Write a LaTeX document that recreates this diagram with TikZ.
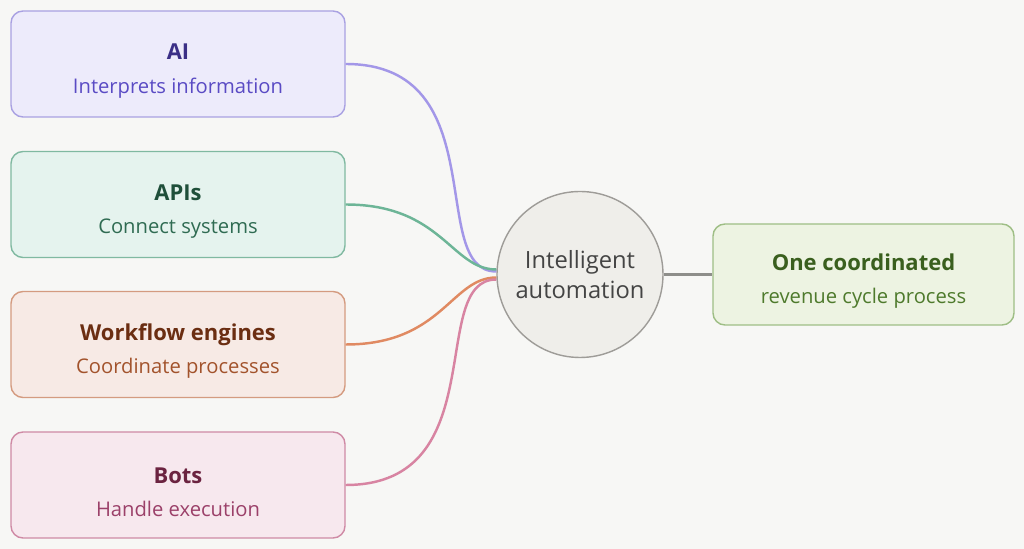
\documentclass[tikz,border=0pt]{standalone}
\usepackage{fontspec}
\setmainfont{Open Sans}
\usetikzlibrary{positioning}

\definecolor{bgcol}{HTML}{F7F7F5}
\definecolor{aifill}{HTML}{EDEBFB}
\definecolor{aidraw}{HTML}{A9A1E2}
\definecolor{aititle}{HTML}{3B2F86}
\definecolor{aisub}{HTML}{5A4BC4}
\definecolor{ailine}{HTML}{A397E8}
\definecolor{apifill}{HTML}{E5F3EE}
\definecolor{apidraw}{HTML}{80B9A1}
\definecolor{apititle}{HTML}{1F4F3A}
\definecolor{apisub}{HTML}{2F6B52}
\definecolor{apiline}{HTML}{6DB597}
\definecolor{wffill}{HTML}{F7EAE5}
\definecolor{wfdraw}{HTML}{D49B80}
\definecolor{wftitle}{HTML}{6B2E12}
\definecolor{wfsub}{HTML}{A2532C}
\definecolor{wfline}{HTML}{E08A62}
\definecolor{botfill}{HTML}{F7E8EE}
\definecolor{botdraw}{HTML}{CF8AA5}
\definecolor{bottitle}{HTML}{6B2340}
\definecolor{botsub}{HTML}{9B4069}
\definecolor{botline}{HTML}{D884A2}
\definecolor{hubfill}{HTML}{EFEEEA}
\definecolor{hubdraw}{HTML}{9E9C98}
\definecolor{hubtext}{HTML}{444444}
\definecolor{outfill}{HTML}{EDF3E2}
\definecolor{outdraw}{HTML}{9EBE85}
\definecolor{outtitle}{HTML}{3A5F1E}
\definecolor{outsub}{HTML}{4E7A2C}
\definecolor{outline}{HTML}{8E8E8A}

% title line + subtitle line of a box
\newcommand{\boxlines}[4]{%
  {\rule{0pt}{17pt}\fontsize{12.5}{19}\selectfont\bfseries\color{#3}#1}\\
  \color{#4}#2}

\tikzset{
  srcbox/.style={draw, rounded corners=0.24cm, line width=0.8pt,
    minimum width=6.68cm, minimum height=2.12cm, align=center,
    font=\fontsize{11.5}{19}\selectfont},
  hub/.style={circle, draw=hubdraw, fill=hubfill, line width=0.8pt,
    minimum size=3.32cm, inner sep=0pt, align=center, text=hubtext,
    font=\fontsize{13.5}{17}\selectfont},
  outbox/.style={draw=outdraw, fill=outfill, rounded corners=0.24cm, line width=0.8pt,
    minimum width=6.02cm, minimum height=2.02cm, align=center,
    font=\fontsize{11.5}{19}\selectfont},
  link/.style={line width=1.4pt, out=0, in=180,
    out looseness=1.5, in looseness=0.7}
}

\begin{document}
\begin{tikzpicture}
  \fill[bgcol] (0,0) rectangle (20.48,-10.98);
  \useasboundingbox (0,0) rectangle (20.48,-10.98);

  % sources
  \node[srcbox, draw=aidraw, fill=aifill] (ai) at (3.56,-1.28)
    {\boxlines{AI}{Interprets information}{aititle}{aisub}};
  \node[srcbox, draw=apidraw, fill=apifill] (api) at (3.56,-4.09)
    {\boxlines{APIs}{Connect systems}{apititle}{apisub}};
  \node[srcbox, draw=wfdraw, fill=wffill] (wf) at (3.56,-6.89)
    {\boxlines{Workflow engines}{Coordinate processes}{wftitle}{wfsub}};
  \node[srcbox, draw=botdraw, fill=botfill] (bot) at (3.56,-9.70)
    {\boxlines{Bots}{Handle execution}{bottitle}{botsub}};

  % hub and result
  \node[hub] (hub) at (11.60,-5.49) {Intelligent\\automation};
  \node[outbox] (out) at (17.27,-5.49)
    {\boxlines{One coordinated}{revenue cycle process}{outtitle}{outsub}};

  \draw[link, ailine] (ai.east) to ([yshift=0.06cm]hub.west);
  \draw[link, apiline] (api.east) to ([yshift=0.1cm]hub.west);
  \draw[link, wfline] (wf.east) to ([yshift=-0.06cm]hub.west);
  \draw[link, botline] (bot.east) to ([yshift=-0.1cm]hub.west);
  \draw[outline, line width=1.4pt] (hub.east) -- (out.west);
\end{tikzpicture}
\end{document}
